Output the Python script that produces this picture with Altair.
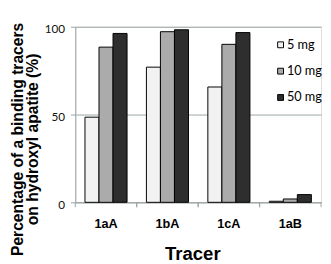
import altair as alt
import pandas as pd

tracers = ["1aA", "1bA", "1cA", "1aB"]
doses = ["5 mg", "10 mg", "50 mg"]
vals_5mg = [48.5, 77.0, 65.7, 0.6]
vals_10mg = [88.4, 97.2, 90.0, 1.9]
vals_50mg = [96.2, 98.3, 96.7, 4.4]
fill_colors = ["#f2f2f2", "#ababab", "#2e2e2e"]

rows = []
for i, t in enumerate(tracers):
    for d, v in zip(doses, [vals_5mg[i], vals_10mg[i], vals_50mg[i]]):
        rows.append({"tracer": t, "dose": d, "value": v})
df = pd.DataFrame(rows)
cats = pd.DataFrame({"tracer": tracers})

W, H = 252, 180
grid_col = "#9aa4a4"

xscale = alt.Scale(domain=tracers, paddingInner=0, paddingOuter=0)

line1 = "\u00a0" * 5 + "Percentage of a binding tracers"
line2 = "on hydroxyl apatite (%)"

bars = alt.Chart(df).mark_bar(stroke="black", strokeWidth=1).encode(
    x=alt.X("tracer:N", scale=xscale, sort=tracers,
            axis=alt.Axis(title="Tracer", ticks=False, labelAngle=0,
                          labelFont="Liberation Sans", labelFontWeight="bold",
                          labelFontSize=13, labelColor="black", labelPadding=16,
                          domainColor=grid_col, domainWidth=1,
                          titleFont="Liberation Sans", titleFontWeight="bold",
                          titleFontSize=19, titleColor="black",
                          titleX=120, titleY=59, titleBaseline="alphabetic",
                          titleAnchor="start", titleAlign="center")),
    xOffset=alt.XOffset("dose:N", sort=doses,
                        scale=alt.Scale(domain=doses, paddingInner=0, paddingOuter=0.69)),
    y=alt.Y("value:Q", scale=alt.Scale(domain=[0, 100], nice=False),
            axis=alt.Axis(values=[0, 50, 100], title=[line1, line2],
                          grid=True, gridColor=grid_col, gridWidth=1,
                          domainColor=grid_col, tickColor=grid_col, tickSize=5,
                          labelFont="Lato", labelFontSize=12, labelColor="#111",
                          labelPadding=6, labelBaseline="middle", labelOffset=2,
                          titleFont="Liberation Sans", titleFontWeight="bold",
                          titleFontSize=16, titleColor="black", titleLineHeight=16,
                          titleAngle=270, titleAlign="center", titleBaseline="alphabetic",
                          titleX=-54.5, titleY=115)),
    fill=alt.Fill("dose:N", sort=doses,
                  scale=alt.Scale(domain=doses, range=fill_colors),
                  legend=alt.Legend(title=None, orient="none", legendX=204, legendY=12,
                                    symbolType="square", symbolSize=36,
                                    symbolStrokeColor="black", symbolStrokeWidth=1,
                                    labelFont="Lato", labelFontSize=13, labelColor="black",
                                    labelOffset=0, rowPadding=13, padding=0)),
)

tick0 = alt.Chart(cats).mark_rule(color=grid_col, strokeWidth=1).encode(
    x=alt.X("tracer:N", scale=xscale, sort=tracers, bandPosition=0),
    y=alt.value(H), y2=alt.value(H + 5),
)
tick1 = alt.Chart(cats).mark_rule(color=grid_col, strokeWidth=1).encode(
    x=alt.X("tracer:N", scale=xscale, sort=tracers, bandPosition=1),
    y=alt.value(H), y2=alt.value(H + 5),
)

chart = alt.layer(bars, tick0, tick1).properties(
    width=W, height=H,
    autosize=alt.AutoSizeParams(type="none"),
    padding={"left": 69, "top": 16, "right": 2, "bottom": 60},
).configure_view(stroke=None).configure(background="white")

chart.save("out.html", embed_options={"renderer": "svg", "actions": False})
